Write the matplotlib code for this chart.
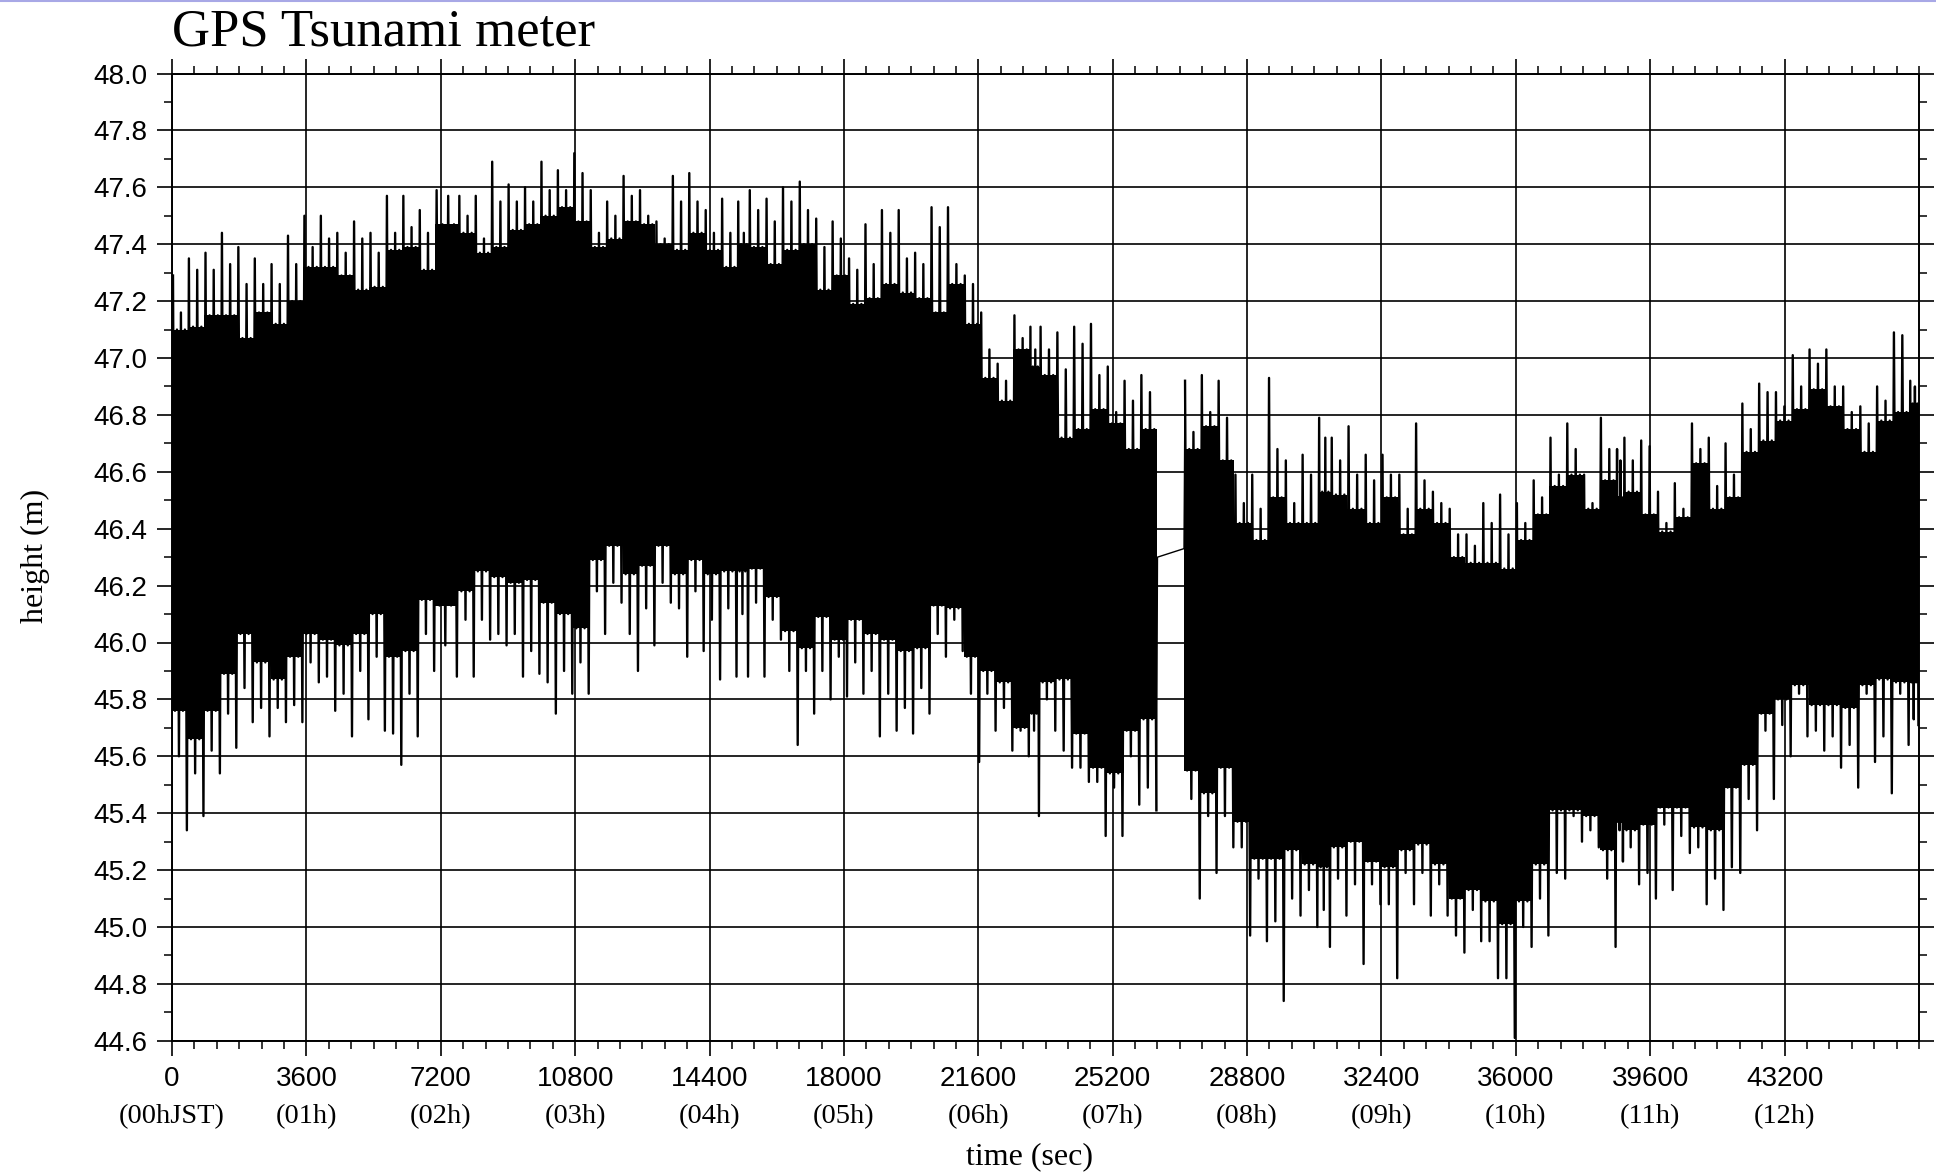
import numpy as np
import matplotlib
matplotlib.use('Agg')
from matplotlib import pyplot as plt
from matplotlib.ticker import MultipleLocator
from matplotlib.transforms import blended_transform_factory
from matplotlib.lines import Line2D

# Bin edges (sec); the receiver drops out between the two segments
seg1_edges = [0, 425, 870, 1310, 1750, 2190, 2640, 3080, 3520, 3960, 4400, 4850, 5290, 5730,
              6170, 6610, 7050, 7670, 8110, 8550, 8990, 9430, 9870, 10310, 10750, 11190, 11630,
              12070, 12510, 12950, 13390, 13830, 14270, 14710, 15150, 15450, 15900, 16340, 16790,
              17230, 17670, 18110, 18550, 18990, 19440, 19880, 20320, 20760, 21210, 21650, 22090,
              22540, 22980, 23240, 23690, 24140, 24590, 25040, 25490, 25940, 26400]
seg2_edges = [27110, 27560, 28010, 28460, 28910, 29360, 29810, 30260, 30710, 31040, 31490, 31950,
              32400, 32850, 33300, 33750, 34200, 34650, 35100, 35550, 36000, 36450, 36900, 37350,
              37800, 38250, 38700, 38880, 39330, 39780, 40230, 40690, 41140, 41590, 42040, 42490,
              42940, 43390, 43840, 44290, 44740, 45200, 45650, 46100, 46550, 46800]

# Per bin: highest spike, second spike, top of dense band, bottom of dense band,
# upper and lowest downward spikes (m)
spike_top = [47.29, 47.35, 47.37, 47.44, 47.39, 47.35, 47.33, 47.43, 47.50, 47.50,
             47.44, 47.48, 47.44, 47.57, 47.57, 47.52, 47.59, 47.57, 47.57, 47.69,
             47.61, 47.60, 47.69, 47.66, 47.72, 47.59, 47.55, 47.64, 47.59, 47.48,
             47.64, 47.65, 47.52, 47.56, 47.55, 47.59, 47.56, 47.60, 47.62, 47.49,
             47.48, 47.35, 47.47, 47.52, 47.52, 47.37, 47.53, 47.53, 47.29, 47.16,
             46.98, 47.15, 47.11, 47.11, 47.09, 47.11, 47.12, 46.97, 46.92, 46.94,
             46.92, 46.94, 46.92, 46.59, 46.59, 46.93, 46.64, 46.66, 46.79, 46.72,
             46.76, 46.66, 46.66, 46.59, 46.77, 46.53, 46.47, 46.38, 46.49, 46.52,
             46.49, 46.57, 46.72, 46.77, 46.59, 46.79, 46.68, 46.72, 46.71, 46.53,
             46.56, 46.77, 46.72, 46.70, 46.84, 46.91, 46.88, 47.01, 47.03, 47.03,
             46.90, 46.83, 46.90, 47.09, 46.92]
spike_top2 = [47.16, 47.31, 47.31, 47.33, 47.26, 47.26, 47.26, 47.33, 47.39, 47.42,
              47.37, 47.42, 47.37, 47.44, 47.46, 47.44, 47.57, 47.50, 47.42, 47.55,
              47.55, 47.55, 47.59, 47.59, 47.65, 47.44, 47.50, 47.57, 47.50, 47.42,
              47.55, 47.55, 47.44, 47.44, 47.44, 47.52, 47.48, 47.55, 47.52, 47.39,
              47.42, 47.31, 47.33, 47.44, 47.35, 47.33, 47.46, 47.33, 47.26, 47.03,
              46.92, 47.07, 47.03, 47.03, 46.96, 47.05, 46.94, 46.81, 46.85, 46.88,
              46.74, 46.81, 46.79, 46.49, 46.47, 46.68, 46.49, 46.59, 46.72, 46.64,
              46.59, 46.57, 46.59, 46.47, 46.57, 46.49, 46.38, 46.34, 46.42, 46.38,
              46.42, 46.51, 46.59, 46.68, 46.49, 46.68, 46.64, 46.64, 46.69, 46.42,
              46.47, 46.68, 46.55, 46.59, 46.75, 46.88, 46.83, 46.90, 46.98, 46.90,
              46.81, 46.77, 46.85, 47.08, 46.90]
band_top = [47.10, 47.11, 47.15, 47.15, 47.07, 47.16, 47.12, 47.20, 47.32, 47.32,
            47.29, 47.24, 47.25, 47.38, 47.39, 47.31, 47.47, 47.44, 47.37, 47.39,
            47.45, 47.47, 47.50, 47.53, 47.48, 47.39, 47.42, 47.48, 47.47, 47.40,
            47.38, 47.44, 47.38, 47.32, 47.40, 47.39, 47.33, 47.38, 47.40, 47.24,
            47.29, 47.19, 47.21, 47.26, 47.23, 47.21, 47.16, 47.26, 47.12, 46.93,
            46.85, 47.03, 46.97, 46.94, 46.72, 46.75, 46.82, 46.77, 46.68, 46.75,
            46.68, 46.76, 46.64, 46.42, 46.36, 46.51, 46.42, 46.42, 46.53, 46.52,
            46.47, 46.42, 46.51, 46.38, 46.47, 46.42, 46.30, 46.28, 46.28, 46.26,
            46.36, 46.45, 46.55, 46.59, 46.47, 46.57, 46.51, 46.53, 46.45, 46.39,
            46.44, 46.63, 46.47, 46.51, 46.67, 46.71, 46.78, 46.82, 46.89, 46.83,
            46.75, 46.67, 46.78, 46.81, 46.84]
band_bot = [45.76, 45.66, 45.76, 45.89, 46.03, 45.93, 45.87, 45.95, 46.03, 46.01,
            45.99, 46.03, 46.10, 45.95, 45.97, 46.15, 46.13, 46.18, 46.25, 46.23,
            46.21, 46.22, 46.14, 46.10, 46.05, 46.29, 46.34, 46.24, 46.27, 46.34,
            46.24, 46.29, 46.24, 46.25, 46.25, 46.26, 46.16, 46.04, 45.98, 46.09,
            46.01, 46.08, 46.03, 46.01, 45.97, 45.98, 46.13, 46.12, 45.95, 45.90,
            45.86, 45.70, 45.75, 45.86, 45.87, 45.68, 45.56, 45.54, 45.69, 45.73,
            45.55, 45.47, 45.56, 45.37, 45.24, 45.24, 45.27, 45.22, 45.21, 45.28,
            45.30, 45.23, 45.21, 45.27, 45.29, 45.22, 45.10, 45.13, 45.09, 45.01,
            45.09, 45.22, 45.41, 45.41, 45.39, 45.27, 45.37, 45.34, 45.36, 45.42,
            45.42, 45.35, 45.34, 45.49, 45.57, 45.75, 45.80, 45.85, 45.78, 45.78,
            45.77, 45.85, 45.87, 45.86, 45.86]
spike_bot2 = [45.60, 45.54, 45.62, 45.75, 45.84, 45.77, 45.77, 45.78, 45.93, 45.88,
              45.82, 45.90, 45.95, 45.68, 45.82, 46.03, 45.99, 46.08, 46.08, 46.03,
              46.03, 45.97, 45.86, 45.90, 45.93, 46.18, 46.21, 46.03, 46.12, 46.21,
              46.12, 46.18, 46.08, 46.12, 46.10, 46.14, 46.08, 45.90, 45.90, 45.90,
              45.95, 45.93, 45.90, 45.82, 45.77, 45.84, 46.03, 46.08, 45.82, 45.82,
              45.77, 45.69, 45.69, 45.80, 45.62, 45.56, 45.51, 45.49, 45.60, 45.49,
              45.45, 45.39, 45.39, 45.28, 45.17, 45.02, 45.10, 45.13, 45.06, 45.17,
              45.15, 45.15, 45.08, 45.19, 45.19, 45.15, 44.97, 45.06, 44.95, 44.82,
              45.00, 45.10, 45.19, 45.39, 45.34, 45.17, 45.34, 45.28, 45.19, 45.36,
              45.32, 45.28, 45.17, 45.21, 45.45, 45.69, 45.71, 45.82, 45.69, 45.67,
              45.64, 45.82, 45.67, 45.82, 45.73]
spike_bot = [45.34, 45.39, 45.54, 45.63, 45.72, 45.67, 45.72, 45.72, 45.86, 45.76,
             45.67, 45.73, 45.69, 45.57, 45.67, 45.90, 45.88, 45.88, 46.01, 45.99,
             45.88, 45.89, 45.75, 45.82, 45.82, 46.03, 46.14, 45.90, 45.99, 46.14,
             45.95, 45.97, 45.87, 45.88, 45.88, 45.88, 46.01, 45.64, 45.75, 45.80,
             45.81, 45.82, 45.67, 45.69, 45.68, 45.75, 45.95, 45.97, 45.58, 45.69,
             45.62, 45.60, 45.39, 45.69, 45.56, 45.51, 45.32, 45.32, 45.43, 45.41,
             45.10, 45.19, 45.28, 44.97, 44.95, 44.74, 45.04, 45.00, 44.93, 45.04,
             44.87, 45.08, 44.82, 45.08, 45.04, 45.04, 44.91, 44.95, 44.82, 44.61,
             44.93, 44.97, 45.17, 45.30, 45.28, 44.93, 45.23, 45.15, 45.10, 45.13,
             45.26, 45.08, 45.06, 45.19, 45.34, 45.45, 45.60, 45.67, 45.62, 45.56,
             45.49, 45.58, 45.47, 45.64, 45.71]

# Line drawn across the data gap
gap_t = [26400, 27110]
gap_h = [46.30, 46.33]

hour_ticks = list(range(0, 43201, 3600))
hour_names = ['(00hJST)', '(01h)', '(02h)', '(03h)', '(04h)', '(05h)', '(06h)',
              '(07h)', '(08h)', '(09h)', '(10h)', '(11h)', '(12h)']


def bins_to_trace(edges, first):
    # each bin becomes a fast up/down swing through its read values
    xs, ys = [], []
    for k in range(len(edges) - 1):
        i = first + k
        a, b = edges[k], edges[k + 1]
        vals = [spike_top[i], band_bot[i], band_top[i], spike_bot2[i],
                spike_top2[i], band_bot[i], band_top[i], spike_bot[i]]
        for j, v in enumerate(vals):
            xs.append(a + (b - a) * (j + 0.5) / len(vals))
            ys.append(v)
    return xs, ys


n1 = len(seg1_edges) - 1
x1, y1 = bins_to_trace(seg1_edges, 0)
x2, y2 = bins_to_trace(seg2_edges, n1)

fig = plt.figure(figsize=(19.36, 11.74), dpi=100)
ax = fig.add_axes([172 / 1936, 1 - 1040.8 / 1174, (1919 - 172) / 1936, (1040.8 - 73.5) / 1174])

# dense part of the record as a solid band, stepped per bin
for edges, first in ((seg1_edges, 0), (seg2_edges, n1)):
    n = len(edges) - 1
    lo = band_bot[first:first + n]
    hi = band_top[first:first + n]
    ax.fill_between(edges, lo + lo[-1:], hi + hi[-1:], step='post',
                    color='black', lw=0, zorder=3)

ax.plot(x1, y1, color='black', lw=1.7, zorder=3)
ax.plot(x2, y2, color='black', lw=1.7, zorder=3)
ax.plot([x1[-1]] + gap_t + [x2[0]], [y1[-1]] + gap_h + [y2[0]], color='black', lw=1.0, zorder=3)

ax.set_xlim(0, 46800)
ax.set_ylim(44.6, 48.0)

ax.set_xticks(hour_ticks)
ax.set_xticklabels([str(t) for t in hour_ticks])
ax.xaxis.set_minor_locator(MultipleLocator(600))
ax.yaxis.set_major_locator(MultipleLocator(0.2))
ax.yaxis.set_minor_locator(MultipleLocator(0.1))
ax.yaxis.set_major_formatter(plt.FormatStrFormatter('%.1f'))

ax.grid(which='major', color='black', lw=1.2, zorder=1)
for s in ax.spines.values():
    s.set_linewidth(1.4)

ax.tick_params(which='major', direction='out', length=11, width=1.2,
               top=True, right=True, labelsize=20, pad=7)
ax.tick_params(which='minor', direction='out', length=5.5, width=1.1,
               top=True, right=True)
for lab in ax.get_xticklabels() + ax.get_yticklabels():
    lab.set_fontfamily('Liberation Sans')

tr = blended_transform_factory(ax.transData, ax.transAxes)
for t, name in zip(hour_ticks, hour_names):
    ax.text(t, -0.0788, name, transform=tr, ha='center', va='center',
            fontfamily='Liberation Serif', fontsize=20.5)

serif = {'fontfamily': 'Liberation Serif'}
fig.text(172 / 1936, 1 - 32 / 1174, 'GPS Tsunami meter', ha='left', va='center',
         fontsize=38, **serif)
fig.text(1030 / 1936, 1 - 1157 / 1174, 'time (sec)', ha='center', va='center',
         fontsize=23, **serif)
fig.text(35 / 1936, 1 - 556 / 1174, 'height (m)', ha='center', va='center',
         rotation=90, fontsize=23, **serif)

fig.add_artist(Line2D([0, 1], [1 - 1.0 / 1174, 1 - 1.0 / 1174], color='#a8a8e6', lw=1.5))

plt.savefig('out.png', dpi=100)
